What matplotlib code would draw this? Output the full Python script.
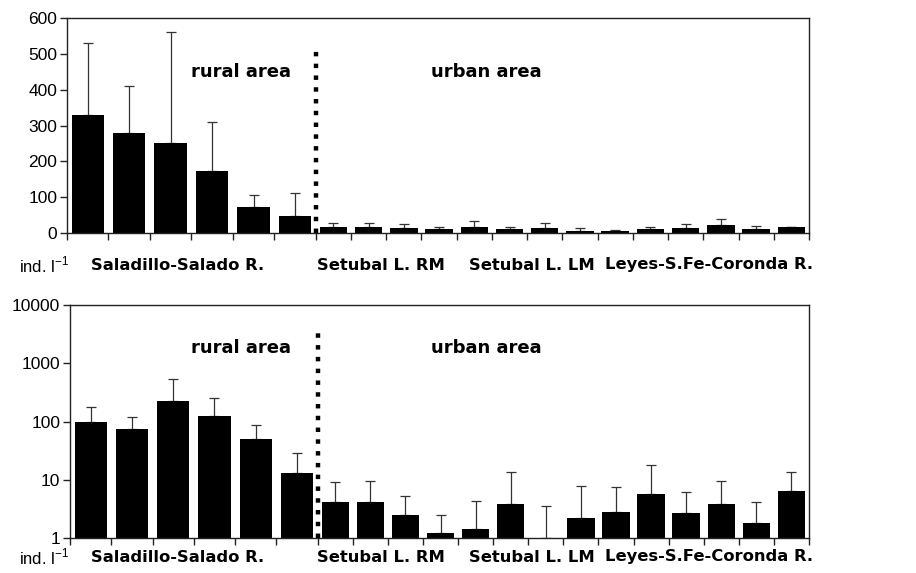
import numpy as np
import matplotlib
matplotlib.use("Agg")
import matplotlib.pyplot as plt

# rural sites (6) then urban sites (14)
top_vals = [330, 279, 251, 174, 73, 48,
            18, 18, 14, 10, 18, 10, 14, 6.5, 6.5, 10, 14, 21, 10, 18]
top_upper = [530, 409, 560, 309, 107, 112,
             28, 28, 24, 17, 34, 17, 28, 13, 9, 17, 24, 38, 20, 18]

bot_vals = [100, 74, 227, 125, 51, 12.9,
            4.2, 4.2, 2.5, 1.2, 1.45, 3.9, 1.0, 2.2, 2.8, 5.6, 2.7, 3.9, 1.8, 6.5]
bot_upper = [179, 120, 530, 253, 88, 28.4,
             9.1, 9.6, 5.3, 2.5, 4.3, 13.7, 3.6, 7.9, 7.5, 18, 6.1, 9.6, 4.1, 13.6]

groups = ["Saladillo-Salado R.", "Setubal L. RM", "Setubal L. LM", "Leyes-S.Fe-Coronda R."]

n_rural = 6
widths = np.array([1.0] * n_rural + [0.85] * (len(top_vals) - n_rural))
edges = np.concatenate([[0], np.cumsum(widths)])
centers = edges[:-1] + widths / 2

plt.rcParams['font.family'] = ['Liberation Sans', 'DejaVu Sans']

fig = plt.figure(figsize=(9.16, 5.73), dpi=100)
W, H = 916, 573
ax1 = fig.add_axes([67 / W, 1 - 233 / H, (809 - 67) / W, (233 - 18) / H])
ax2 = fig.add_axes([70 / W, 1 - 538 / H, (809 - 70) / W, (538 - 305) / H])


def style(ax):
    ax.set_xlim(edges[0], edges[-1])
    ax.set_xticks(edges)
    ax.set_xticklabels([])
    ax.tick_params(axis='both', direction='out', length=5, width=1, color='#222222',
                   labelsize=12.5, pad=2)
    ax.tick_params(axis='y', which='minor', length=0)
    for s in ax.spines.values():
        s.set_color('#222222')
        s.set_linewidth(1)


def draw(ax, vals, upper):
    vals = np.array(vals)
    upper = np.array(upper)
    ax.bar(centers, vals, width=widths * 0.78, color='black', zorder=2)
    ax.errorbar(centers, vals, yerr=[np.zeros_like(vals), upper - vals], fmt='none',
                ecolor='#333333', elinewidth=0.9, capsize=3.8, capthick=0.9, zorder=1)


draw(ax1, top_vals, top_upper)
style(ax1)
ax1.set_ylim(0, 600)
ax1.set_yticks([0, 100, 200, 300, 400, 500, 600])
ax1.plot([edges[n_rural]] * 2, [0, 520], color='black', linestyle=':', linewidth=3.2,
         zorder=3, clip_on=False)

draw(ax2, bot_vals, bot_upper)
ax2.set_yscale('log')
style(ax2)
ax2.set_ylim(1, 10000)
ax2.set_yticks([1, 10, 100, 1000, 10000])
ax2.set_yticklabels(['1', '10', '100', '1000', '10000'])
ax2.plot([edges[n_rural]] * 2, [1, 3800], color='black', linestyle=':', linewidth=3.2,
         zorder=3, clip_on=False)

bold = dict(family=['DejaVu Sans'], fontweight='bold', fontsize=11.8, va='center', ha='center')
area = dict(family=['DejaVu Sans'], fontweight='bold', fontsize=13, va='center', ha='center')

for ytxt, yarea in [(265, 72), (557, 348)]:
    fig.text(44 / W, 1 - ytxt / H, "ind. l$^{\\mathregular{-1}}$", fontsize=12, va='center', ha='center')
    for name, cx in zip(groups, [178, 381, 532, 709]):
        fig.text(cx / W, 1 - ytxt / H, name, **bold)
    fig.text(241 / W, 1 - yarea / H, "rural area", **area)
    fig.text(486 / W, 1 - yarea / H, "urban area", **area)

fig.savefig("out.png", dpi=100)
